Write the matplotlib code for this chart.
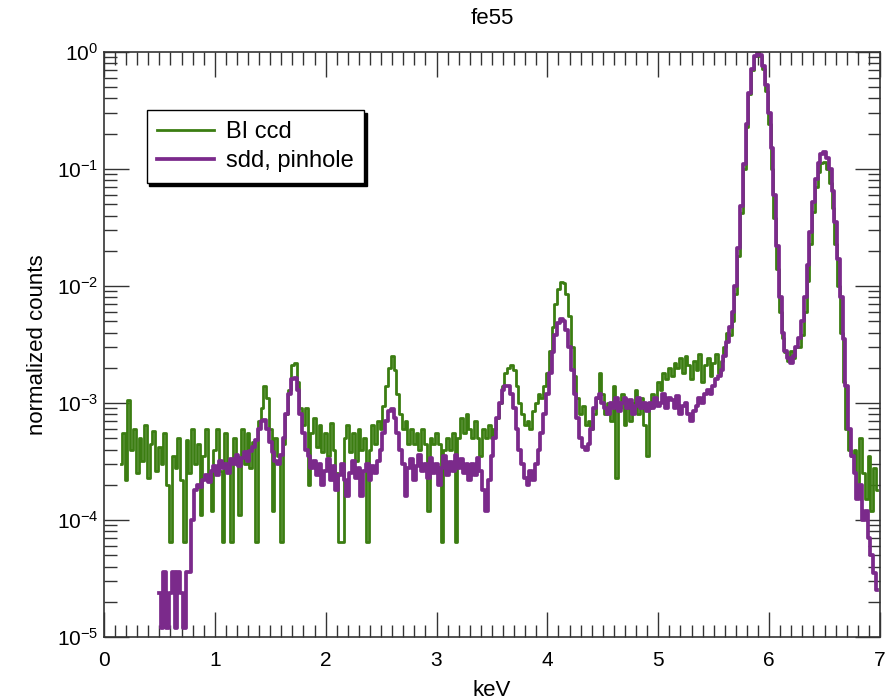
import numpy as np
import matplotlib.pyplot as plt
from matplotlib.ticker import MultipleLocator, LogLocator, NullFormatter

# spectra, normalized counts in units of 1e-4
bin_width = 0.025  # keV
ccd_start = 0.150  # keV, first bin of the BI ccd spectrum
sdd_start = 0.500  # keV, first bin of the sdd spectrum

bi_ccd = [
    3.0, 5.5, 2.2, 10.5, 4.0, 6.0, 2.5, 5.0, 3.2, 6.5,            # 0.150
    2.3, 4.5, 5.8, 2.6, 4.2, 3.0, 5.5, 2.0, 0.65, 3.5,            # 0.400
    2.8, 5.0, 2.2, 0.65, 4.8, 2.5, 6.0, 3.0, 4.5, 1.1,            # 0.650
    3.5, 6.0, 2.4, 1.2, 4.0, 6.0, 2.6, 0.65, 5.5, 3.0,            # 0.900
    0.65, 5.0, 3.2, 1.1, 6.0, 3.0, 5.5, 2.8, 4.6, 0.65,           # 1.150
    7.0, 9.0, 14.0, 11.0, 6.0, 1.2, 5.0, 3.5, 0.65, 4.5,          # 1.400
    8.0, 13.0, 21.0, 22.0, 15.0, 9.0, 6.5, 9.0, 2.0, 5.5,         # 1.650
    7.5, 4.2, 6.5, 3.8, 5.5, 3.5, 6.8, 4.0, 2.5, 0.65,            # 1.900
    0.65, 5.0, 6.5, 3.8, 5.5, 3.2, 6.0, 4.0, 5.0, 0.65,           # 2.150
    4.0, 6.5, 4.5, 7.0, 6.0, 9.5, 14.0, 20.0, 25.0, 19.0,         # 2.400
    12.0, 8.0, 6.0, 7.0, 4.5, 6.0, 4.5, 5.5, 4.0, 6.0,            # 2.650
    4.5, 1.2, 5.0, 4.5, 5.5, 4.5, 0.65, 4.0, 5.0, 4.0,            # 2.900
    5.5, 0.65, 5.0, 7.5, 5.5, 8.0, 6.0, 5.0, 7.0, 5.0,            # 3.150
    3.5, 6.0, 5.0, 6.5, 5.0, 6.0, 7.5, 10.0, 14.0, 18.0,          # 3.400
    20.0, 21.0, 19.0, 14.0, 10.0, 8.0, 6.5, 7.0, 6.0, 8.5,        # 3.650
    10.0, 12.0, 11.0, 14.0, 18.0, 28.0, 45.0, 70.0, 95.0, 108.0,  # 3.900
    105.0, 85.0, 55.0, 30.0, 17.0, 11.0, 8.0, 9.5, 6.5, 7.0,      # 4.150
    6.0, 8.0, 11.0, 18.0, 12.0, 8.0, 10.0, 7.0, 14.0, 2.3,        # 4.400
    9.0, 12.0, 6.5, 9.0, 7.0, 10.0, 13.0, 8.0, 11.0, 6.5,         # 4.650
    3.5, 9.0, 12.0, 10.0, 15.0, 13.0, 18.0, 16.0, 20.0, 17.0,     # 4.900
    22.0, 20.0, 24.0, 18.0, 25.0, 21.0, 16.0, 23.0, 19.0, 26.0,   # 5.150
    15.0, 21.0, 24.0, 17.0, 22.0, 26.0, 18.0, 23.0, 30.0, 40.0,   # 5.400
    38, 50, 85, 180, 420, 1000, 2300, 4400, 7000, 9200,           # 5.650
    10000, 9300, 7200, 4600, 2400, 1000, 380, 140, 60, 36,        # 5.900
    27, 23, 28, 24, 30, 30, 38, 60, 110, 230,                     # 6.150
    430, 700, 950, 1130, 1150, 1000, 760, 460, 230, 100,          # 6.400
    40, 15, 6.0, 4.0, 3.5, 4.0, 2.0, 5.0, 2.5, 1.5,               # 6.650
    3.5, 1.2, 2.8, 1.8,                                           # 6.900
]

sdd_pinhole = [
    0.24, 0.12, 0.36, 0.12, 0.24, 0.36, 0.12, 0.36, 0.24, 0.12,   # 0.500
    0.36, 0.36, 1.0, 1.8, 2.0, 1.9, 2.2, 2.4, 2.1, 2.6,           # 0.750
    2.9, 2.4, 3.2, 2.8, 3.0, 2.5, 3.3, 3.0, 3.6, 2.9,             # 1.000
    3.4, 3.8, 3.2, 3.9, 4.2, 4.8, 6.0, 7.0, 7.2, 6.0,             # 1.250
    4.6, 3.8, 3.2, 3.0, 3.6, 5.0, 8.0, 12.0, 16.0, 16.5,          # 1.500
    13.0, 8.0, 5.5, 4.0, 3.5, 2.8, 3.2, 2.4, 3.0, 2.0,            # 1.750
    2.6, 3.3, 2.2, 2.9, 1.8, 2.4, 3.0, 2.2, 1.6, 2.5,             # 2.000
    3.2, 2.3, 2.8, 1.6, 2.6, 3.0, 2.2, 2.9, 2.5, 3.2,             # 2.250
    4.0, 5.5, 7.0, 8.5, 8.8, 7.5, 5.5, 4.0, 3.0, 1.6,             # 2.500
    2.8, 3.3, 2.2, 2.9, 3.6, 2.6, 3.0, 2.3, 3.4, 2.5,             # 2.750
    3.0, 2.0, 2.8, 3.5, 2.4, 3.1, 2.6, 3.6, 2.8, 3.3,             # 3.000
    2.5, 3.0, 2.2, 3.0, 2.4, 3.4, 2.6, 1.8, 1.2, 2.2,             # 3.250
    3.5, 5.0, 7.5, 10.0, 13.0, 14.0, 14.0, 12.0, 9.0, 6.0,        # 3.500
    4.0, 3.0, 2.3, 2.0, 2.6, 2.2, 3.0, 4.0, 5.5, 8.0,             # 3.750
    12.0, 18.0, 27.0, 38.0, 48.0, 52.0, 50.0, 42.0, 30.0, 19.0,   # 4.000
    12.0, 7.5, 5.0, 4.2, 4.0, 4.5, 6.0, 9.0, 11.0, 12.0,          # 4.250
    10.0, 9.0, 8.0, 10.0, 9.0, 11.0, 8.5, 10.0, 11.0, 9.0,        # 4.500
    10.5, 8.0, 9.5, 11.0, 9.0, 10.0, 8.5, 10.0, 9.0, 11.0,        # 4.750
    9.5, 10.0, 12.0, 9.0, 11.0, 10.5, 9.0, 11.5, 8.0, 9.5,        # 5.000
    10.0, 8.0, 7.0, 8.5, 9.5, 11.0, 10.0, 12.0, 13.0, 12.0,       # 5.250
    14.0, 16.0, 17.0, 19.0, 25.0, 33.0, 45.0, 60.0, 100, 210,     # 5.500
    480, 1100, 2400, 4500, 7100, 9300, 10000, 9400, 7600, 5200,   # 5.750
    3000, 1500, 600, 220, 80, 40, 28, 24, 22, 25,                 # 6.000
    30, 36, 50, 80, 150, 290, 520, 820, 1120, 1350,               # 6.250
    1400, 1250, 1000, 650, 350, 170, 80, 35, 14, 6.0,             # 6.500
    3.5, 2.5, 1.5, 2.0, 1.0, 1.2, 0.7, 0.5, 0.35, 0.25,           # 6.750
]

labels = ['BI ccd', 'sdd, pinhole']
colors = ['#3b7d12', '#7b2a8b']


def draw_spectra(figname):
    plt.rcParams['font.family'] = ['Liberation Sans', 'DejaVu Sans']

    e_ccd = ccd_start + bin_width * np.arange(len(bi_ccd))
    e_sdd = sdd_start + bin_width * np.arange(len(sdd_pinhole))
    y_ccd = np.array(bi_ccd) * 1e-4
    y_sdd = np.array(sdd_pinhole) * 1e-4

    fig = plt.figure(figsize=(8.88, 6.99), dpi=100)
    ax = fig.add_axes([0.117, 0.0887, 0.874, 0.837])

    ax.step(e_ccd, y_ccd, where='mid', color=colors[0], lw=2.0, label=labels[0])
    ax.step(e_sdd, y_sdd, where='mid', color=colors[1], lw=2.7, label=labels[1])

    ax.set_yscale('log')
    ax.set_xlim(0, 7)
    ax.set_ylim(1e-5, 1)

    ax.xaxis.set_major_locator(MultipleLocator(1))
    ax.xaxis.set_minor_locator(MultipleLocator(0.1))
    ax.yaxis.set_major_locator(LogLocator(base=10, numticks=10))
    ax.yaxis.set_minor_locator(LogLocator(base=10, subs=np.arange(2, 10), numticks=20))
    ax.yaxis.set_minor_formatter(NullFormatter())

    ax.tick_params(which='both', direction='in', top=True, right=True,
                   color='#333333', width=1.0)
    ax.tick_params(which='major', length=18, labelsize=15)
    ax.tick_params(which='minor', length=9)
    ax.tick_params(axis='x', which='major', pad=10)
    ax.tick_params(axis='y', which='major', pad=4)
    for s in ax.spines.values():
        s.set_linewidth(1.2)
        s.set_color('#333333')

    ax.set_title('fe55', fontsize=16, pad=20)
    ax.set_xlabel('keV', fontsize=16, labelpad=7)
    ax.set_ylabel('normalized counts', fontsize=16, labelpad=6)

    leg = ax.legend(loc='upper left', bbox_to_anchor=(0.055, 0.90), borderaxespad=0,
                    fontsize=17, handlelength=2.4, handletextpad=0.5, fancybox=False,
                    shadow={'color': 'black', 'alpha': 1.0}, framealpha=1,
                    borderpad=0.45, labelspacing=0.3)
    leg.get_frame().set_edgecolor('black')
    leg.get_frame().set_linewidth(1.0)

    plt.savefig(figname, dpi=100, facecolor='w', edgecolor='w')


if __name__ == "__main__":
    draw_spectra("out.png")
